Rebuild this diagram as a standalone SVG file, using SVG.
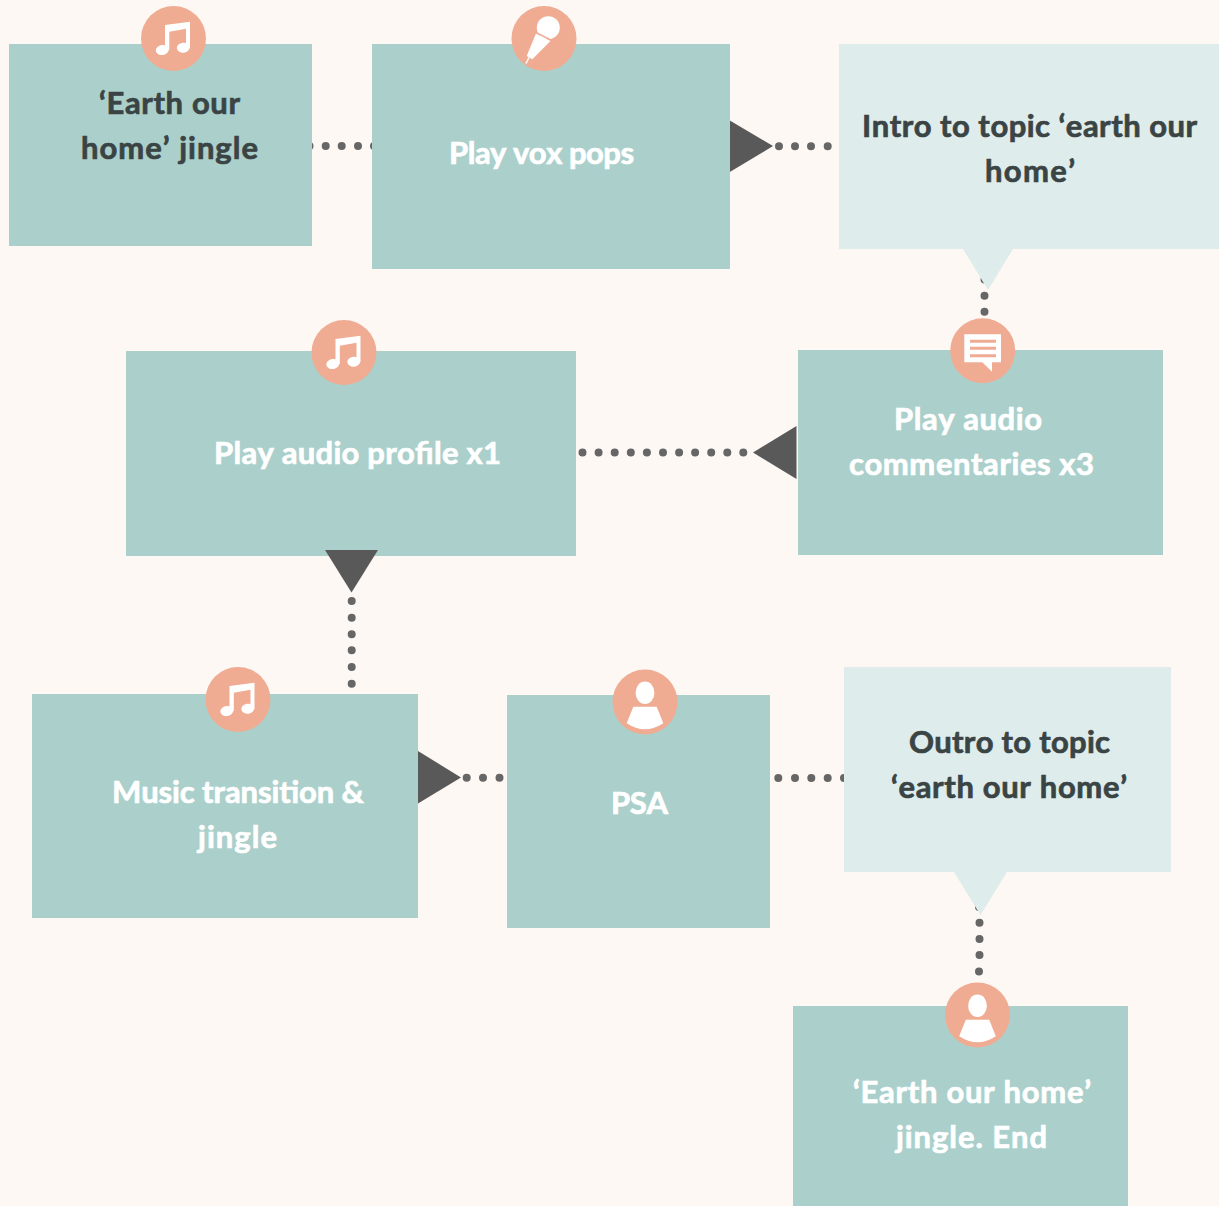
<svg xmlns="http://www.w3.org/2000/svg" xmlns:xlink="http://www.w3.org/1999/xlink" width="1219" height="1206" viewBox="0 0 1219 1206">
<style>
.bg{fill:#fef8f5}
.box{fill:#abd0cb}
.lite{fill:#deedeb}
.c{fill:#efac93}
.w{fill:#fff}
.tri{fill:#595959}
.dots{fill:none;stroke:#666;stroke-width:8;stroke-linecap:round}
.t{font-family:"Lato","Liberation Sans",sans-serif;font-weight:700;font-size:31px;fill:#fff;stroke:#fff;stroke-width:.7px;font-kerning:none}
.d{fill:#3a4445;stroke:#3a4445}
</style>
<defs>
<g id="music"><circle class="c" r="32.5"/><path class="w" d="M-8.5 -13.5L16.5 -16.8V9.2H12.5V-9.8L-4.2 -6.8V11.5H-8.5Z"/><ellipse class="w" cx="-11.2" cy="11.5" rx="6.5" ry="5" transform="rotate(-8 -11.2 11.5)"/><ellipse class="w" cx="9.8" cy="9.2" rx="6.5" ry="5" transform="rotate(-8 9.8 9.2)"/></g>
<g id="person"><circle class="c" r="32.5"/><ellipse class="w" cx="0" cy="-9.3" rx="9.4" ry="11.3"/><path class="w" d="M-11.7 4.7H11.7L18.3 21.3Q0 33.3 -18.3 21.3Z"/></g>
</defs>
<rect class="bg" width="1219" height="1206"/>
<g id="connectors">
<path class="dots" d="M309.5 146h0M325.7 146h0M341.7 146h0M358 146h0M374 146h0"/>
<path class="dots" d="M779 146.300h0M795 146.300h0M811 146.300h0M827.700 146.300h0"/>
<polygon class="tri" points="729,120 773,146 729,172.500"/>
<path class="dots" d="M984.500 279.600h0M984.500 295.700h0M984.500 311.700h0"/>
<path class="dots" d="M582.500 452.500h0M598.600 452.500h0M614.700 452.500h0M630.800 452.500h0M646.900 452.500h0M663 452.500h0M679.100 452.500h0M695.100 452.500h0M711.200 452.500h0M727.300 452.500h0M743.300 452.500h0"/>
<polygon class="tri" points="796.500,426 753,452.500 796.500,479"/>
<path class="dots" d="M351.700 601h0M351.700 617.700h0M351.700 634.300h0M351.700 650.300h0M351.700 667h0M351.700 683.700h0"/>
<path class="dots" d="M466.700 777.700h0M483 777.700h0M499.500 777.700h0"/>
<polygon class="tri" points="418,751 461,777.500 418,803.500"/>
<path class="dots" d="M778.300 778h0M795 778h0M811.300 778h0M827.700 778h0M844 778h0"/>
<path class="dots" d="M979 907h0M979.500 922.700h0M979.500 939h0M979.500 955h0M979 971.500h0"/>
</g>
<g id="node-jingle-start"><rect class="box" x="9" y="44" width="303" height="202"/><use href="#music" x="173.500" y="38.500"/>
<text class="t d" x="99" y="114" textLength="141">‘Earth our</text><text class="t d" x="81" y="159" textLength="177">home’ jingle</text></g>
<g id="node-vox-pops"><rect class="box" x="372" y="44" width="358" height="225"/>
<g transform="translate(544 38.500)"><circle class="c" r="32.500"/><path class="w" d="M-8 -5L6.500 2.500L-11.700 20.800L-17.300 17.500Z"/><path d="M-15 19L-18 25" stroke="#fff" stroke-width="1.500" fill="none"/><circle class="w" cx="4.300" cy="-10.800" r="11.500"/><path d="M-8.300 -6.200L6.700 1.500" stroke="#efac93" stroke-width="1.500" fill="none"/></g>
<text class="t" x="449" y="164" textLength="185">Play vox pops</text></g>
<g id="node-intro"><rect class="lite" x="839" y="44" width="380" height="205"/><polygon class="lite" points="963,249 1013,249 988,290"/>
<text class="t d" x="862" y="137" textLength="335">Intro to topic ‘earth our</text><text class="t d" x="985" y="182" textLength="90">home’</text></g>
<g id="node-commentaries"><rect class="box" x="798" y="350" width="365" height="205"/>
<g transform="translate(982.700 350.700)"><circle class="c" r="32.500"/><path class="w" d="M-18.400 -16.400H18.300V11.600H9.300V21L-0.400 11.600H-18.400Z"/><path d="M-12.700 -9.400H13.300M-12.700 -2.400H13.300M-12.700 5H13.300" stroke="#efac93" stroke-width="3" fill="none"/></g>
<text class="t" x="894" y="430" textLength="148">Play audio</text><text class="t" x="849" y="475" textLength="245">commentaries x3</text></g>
<g id="node-profile"><rect class="box" x="126" y="351" width="450" height="205"/><use href="#music" x="344" y="352.500"/>
<text class="t" x="214" y="464" textLength="287">Play audio profile x1</text></g>
<polygon class="tri" points="325,550 378,550 351.500,592.500"/>
<g id="node-transition"><rect class="box" x="32" y="694" width="386" height="224"/><use href="#music" x="238" y="699.500"/>
<text class="t" x="112" y="803" textLength="252">Music transition &amp;</text><text class="t" x="198" y="848" textLength="79">jingle</text></g>
<g id="node-psa"><rect class="box" x="507" y="695" width="263" height="233"/><use href="#person" x="645" y="702"/>
<text class="t" x="611" y="814" textLength="57">PSA</text></g>
<g id="node-outro"><rect class="lite" x="844" y="667" width="327" height="205"/><polygon class="lite" points="954,872 1007,872 980.500,915"/>
<text class="t d" x="909" y="753" textLength="201">Outro to topic</text><text class="t d" x="891" y="798" textLength="236">‘earth our home’</text></g>
<g id="node-end"><rect class="box" x="793" y="1006" width="335" height="200"/><use href="#person" x="977.500" y="1015"/>
<text class="t" x="853" y="1103" textLength="238">‘Earth our home’</text><text class="t" x="896" y="1148" textLength="151">jingle. End</text></g>
</svg>
